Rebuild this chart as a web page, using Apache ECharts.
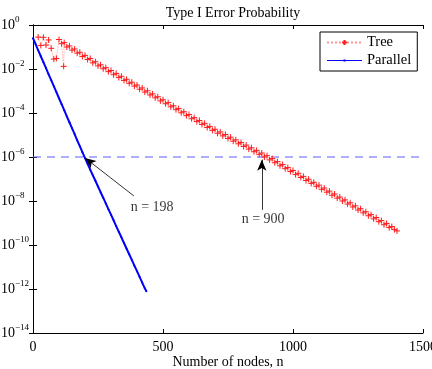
<!DOCTYPE html>
<html>
<head>
<meta charset="utf-8">
<script src="https://cdn.jsdelivr.net/npm/echarts@6/dist/echarts.min.js"></script>
<style>
  html, body { margin: 0; padding: 0; background: #fff; }
  #chart { width: 432px; height: 369px; }
</style>
</head>
<body>
<div id="chart"></div>
<script>
// number of nodes for each curve
const parallelN = [0, 10, 20, 30, 40, 50, 60, 70, 80, 90, 100, 110, 120, 130, 140, 150, 160, 170, 180, 190,
  200, 210, 220, 230, 240, 250, 260, 270, 280, 290, 300, 310, 320, 330, 340, 350, 360, 370, 380, 390,
  400, 410, 420, 430, 436];
// log10 of the error probability
const parallelExp = [-0.60, -0.87, -1.15, -1.42, -1.69, -1.96, -2.24, -2.51, -2.78, -3.05, -3.33, -3.60, -3.87, -4.15, -4.42, -4.69, -4.96, -5.24, -5.51, -5.78,
  -6.05, -6.31, -6.57, -6.83, -7.08, -7.34, -7.60, -7.85, -8.11, -8.37, -8.62, -8.88, -9.14, -9.40, -9.65, -9.91, -10.17, -10.42, -10.68, -10.94,
  -11.19, -11.45, -11.71, -11.97, -12.10];

const treeN = [20, 30, 40, 50, 60, 70, 80, 90, 100, 110, 118, 120, 130, 140, 150, 160, 170, 180, 190,
  200, 210, 220, 230, 240, 250, 260, 270, 280, 290, 300, 310, 320, 330, 340, 350, 360, 370, 380, 390,
  400, 410, 420, 430, 440, 450, 460, 470, 480, 490, 500, 510, 520, 530, 540, 550, 560, 570, 580, 590,
  600, 610, 620, 630, 640, 650, 660, 670, 680, 690, 700, 710, 720, 730, 740, 750, 760, 770, 780, 790,
  800, 810, 820, 830, 840, 850, 860, 870, 880, 890, 900, 910, 920, 930, 940, 950, 960, 970, 980, 990,
  1000, 1010, 1020, 1030, 1040, 1050, 1060, 1070, 1080, 1090, 1100, 1110, 1120, 1130, 1140, 1150, 1160, 1170, 1180, 1190,
  1200, 1210, 1220, 1230, 1240, 1250, 1260, 1270, 1280, 1290, 1300, 1310, 1320, 1330, 1340, 1350, 1360, 1370, 1380, 1390, 1400];
const treeExp = [-0.55, -0.93, -0.56, -0.91, -0.68, -1.06, -1.55, -1.52, -0.66, -0.85, -1.88, -0.80, -1.00, -0.95, -1.14, -1.09, -1.28, -1.24, -1.43,
  -1.38, -1.57, -1.52, -1.72, -1.67, -1.86, -1.81, -1.99, -1.94, -2.12, -2.07, -2.26, -2.20, -2.39, -2.33, -2.52, -2.47, -2.65, -2.60, -2.78,
  -2.73, -2.92, -2.86, -3.05, -2.99, -3.18, -3.13, -3.31, -3.26, -3.45, -3.40, -3.58, -3.53, -3.72, -3.67, -3.85, -3.80, -3.99, -3.94, -4.12,
  -4.07, -4.26, -4.21, -4.39, -4.34, -4.52, -4.47, -4.66, -4.61, -4.79, -4.74, -4.92, -4.86, -5.04, -4.98, -5.16, -5.10, -5.28, -5.22, -5.40,
  -5.34, -5.52, -5.46, -5.64, -5.58, -5.76, -5.70, -5.88, -5.82, -6.00, -5.94, -6.13, -6.07, -6.26, -6.21, -6.40, -6.34, -6.53, -6.48, -6.66,
  -6.61, -6.80, -6.74, -6.93, -6.88, -7.07, -7.01, -7.20, -7.15, -7.33, -7.28, -7.47, -7.41, -7.60, -7.55, -7.74, -7.68, -7.87, -7.82, -8.00,
  -7.95, -8.14, -8.08, -8.27, -8.22, -8.41, -8.35, -8.54, -8.49, -8.67, -8.62, -8.81, -8.75, -8.94, -8.89, -9.08, -9.02, -9.21, -9.16, -9.30, -9.36];

const threshold = 1e-6;

const FONT = "'Liberation Serif', 'Times New Roman', serif";
const toPairs = (ns, es) => ns.map((n, i) => [n, Math.pow(10, es[i])]);

const chart = echarts.init(document.getElementById('chart'));

const yLabel = {
    show: true,
    align: 'left',
    margin: 32,
    fontFamily: FONT,
    formatter: function (v) {
        const e = Math.round(Math.log10(v));
        return '{b|10}{s|' + (e < 0 ? '\u2212' + (-e) : e) + '}';
    },
    rich: {
        b: { fontSize: 14, fontFamily: FONT, color: '#000' },
        s: { fontSize: 9, fontFamily: FONT, color: '#000', padding: [0, 0, 10, 0] }
    }
};

const tickStyle = { inside: true, length: 4, lineStyle: { color: '#000' } };

const option = {
    animation: false,
    backgroundColor: '#fff',
    title: {
        text: 'Type I Error Probability',
        left: 228,
        top: 1,
        textAlign: 'center',
        textStyle: { fontFamily: FONT, fontSize: 14, fontWeight: 'normal', color: '#000' }
    },
    legend: {
        data: [
            { name: 'Tree' },
            { name: 'Parallel', icon: 'path://M0,0H0.01V6H0Z M0,2.4H35V3.6H0Z M16.5,2H18.5V4H16.5Z' }
        ],
        orient: 'vertical',
        left: 320,
        top: 32,
        padding: [3, 6, 3, 6],
        itemGap: 3,
        itemWidth: 35,
        itemHeight: 6,
        backgroundColor: '#fff',
        borderColor: '#000',
        borderWidth: 1,
        borderRadius: 0,
        textStyle: { fontFamily: FONT, fontSize: 14.5, color: '#000' }
    },
    grid: { left: 33, right: 9, top: 25, bottom: 36, outerBoundsMode: 'none' },
    xAxis: [{
        type: 'value',
        min: 0, max: 1500, interval: 500,
        name: 'Number of nodes, n',
        nameLocation: 'middle',
        nameGap: 22,
        nameMoveOverlap: false,
        nameTextStyle: { fontFamily: FONT, fontSize: 14, color: '#000' },
        axisLine: { lineStyle: { color: '#000', width: 1 } },
        axisTick: tickStyle,
        axisLabel: {
            fontFamily: FONT, fontSize: 14, color: '#000', margin: 7,
            formatter: function (v) { return String(v); },
            hideOverlap: false
        },
        splitLine: { show: false }
    }, {
        type: 'value',
        position: 'top',
        min: 0, max: 1500, interval: 500,
        axisLine: { lineStyle: { color: '#000', width: 1 } },
        axisTick: tickStyle,
        axisLabel: { show: false },
        splitLine: { show: false }
    }],
    yAxis: [{
        type: 'log',
        logBase: 10,
        min: 1e-14, max: 1,
        interval: 2,
        axisLine: { show: true, lineStyle: { color: '#000', width: 1 } },
        axisTick: tickStyle,
        axisLabel: yLabel,
        splitLine: { show: false }
    }, {
        type: 'log',
        logBase: 10,
        position: 'right',
        min: 1e-14, max: 1,
        interval: 2,
        axisLine: { show: true, lineStyle: { color: '#000', width: 1 } },
        axisTick: tickStyle,
        axisLabel: { show: false },
        splitLine: { show: false }
    }],
    series: [{
        name: 'Tree',
        type: 'line',
        data: toPairs(treeN, treeExp),
        symbol: 'path://M0,5L10,5M5,0L5,10',
        symbolSize: 6,
        showSymbol: true,
        itemStyle: { color: '#ff1a1a', borderColor: '#ff1a1a', borderWidth: 1 },
        lineStyle: { color: 'rgba(255,60,60,0.55)', width: 0.8, type: 'dotted' },
        z: 3
    }, {
        name: 'Parallel',
        type: 'line',
        data: toPairs(parallelN, parallelExp),
        symbol: 'circle',
        symbolSize: 2,
        showSymbol: true,
        itemStyle: { color: '#0000ff' },
        lineStyle: { color: '#0000ff', width: 2 },
        z: 4
    }, {
        name: 'annotations',
        type: 'scatter',
        symbolSize: 0,
        silent: true,
        z: 5,
        data: [
            { value: [458, Math.pow(10, -8.27)], name: 'n = 198' },
            { value: [885, Math.pow(10, -8.82)], name: 'n = 900' }
        ],
        label: {
            show: true,
            position: 'inside',
            formatter: '{b}',
            fontFamily: FONT,
            fontSize: 14,
            color: '#000'
        },
        markLine: {
            silent: true,
            symbol: ['none', 'arrow'],
            symbolSize: [7, 11],
            label: { show: false },
            lineStyle: { color: '#000', type: 'solid', width: 0.8 },
            data: [
                [{ coord: [388, Math.pow(10, -7.77)] }, { coord: [200, Math.pow(10, -6.04)] }],
                [{ coord: [880, Math.pow(10, -8.4)] }, { coord: [880, Math.pow(10, -6.12)] }]
            ]
        }
    }, {
        name: 'threshold',
        type: 'line',
        data: [[0, threshold], [1500, threshold]],
        symbol: 'none',
        silent: true,
        lineStyle: { color: '#5c5cff', type: [8, 6], width: 1 },
        z: 2
    }]
};

chart.setOption(option);
</script>
</body>
</html>
